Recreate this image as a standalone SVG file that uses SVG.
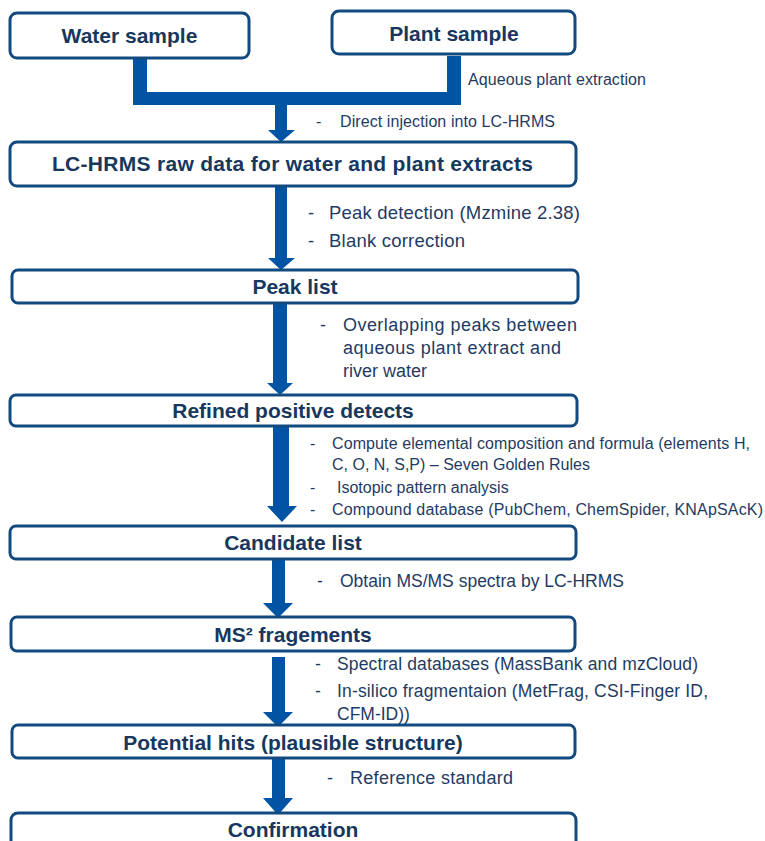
<svg xmlns="http://www.w3.org/2000/svg" width="765" height="841" viewBox="0 0 765 841">
<style>
.box{fill:#ffffff;stroke:#124A80;stroke-width:3}
.t{font-family:"Liberation Sans",Arial,sans-serif;font-weight:bold;font-size:21px;fill:#17375E;text-anchor:middle}
.a{font-family:"Liberation Sans",Arial,sans-serif;fill:#1F3B63}
.arr{fill:#0054A3}
</style>
<rect width="765" height="841" fill="#ffffff"/>
<g id="connectors">
<path class="arr" d="M133,58 H147 V92 H447 V56 H461 V105 H287 V130 H295 L281,142 L268,130 H275 V105 H133 Z"/>
<path class="arr" d="M275,186 H287 V258 H295 L281,270 L268,258 H275 Z"/>
<path class="arr" d="M273,303 H287 V383 H293 L280,395 L267,383 H273 Z"/>
<path class="arr" d="M273,426 H289 V506 H297 L282,522 L267,506 H273 Z"/>
<path class="arr" d="M272,559 H285 V603 H293 L278,618 L263,603 H272 Z"/>
<path class="arr" d="M272,657 H285 V712 H293 L278,727 L263,712 H272 Z"/>
<path class="arr" d="M272,758 H285 V798 H293 L278,815 L263,798 H272 Z"/>
</g>
<g id="water">
<rect class="box" x="10" y="13" width="239" height="45" rx="7"/>
<text class="t" x="129.5" y="43">Water sample</text>
</g>
<g id="plant">
<rect class="box" x="332" y="11" width="243" height="43" rx="7"/>
<text class="t" x="454" y="41">Plant sample</text>
</g>
<g id="lchrms">
<rect class="box" x="10" y="142" width="566" height="44" rx="7"/>
<text class="t" x="292.5" y="171" font-size="21.5" textLength="481">LC-HRMS raw data for water and plant extracts</text>
</g>
<g id="peaklist">
<rect class="box" x="12" y="270" width="566" height="33" rx="6"/>
<text class="t" x="295" y="294">Peak list</text>
</g>
<g id="refined">
<rect class="box" x="10" y="395" width="567" height="31" rx="6"/>
<text class="t" x="293" y="418">Refined positive detects</text>
</g>
<g id="candidate">
<rect class="box" x="10" y="526" width="566" height="33" rx="6"/>
<text class="t" x="293" y="550" font-size="20">Candidate list</text>
</g>
<g id="ms2">
<rect class="box" x="11" y="617" width="564" height="34" rx="6"/>
<text class="t" x="293" y="642">MS² fragements</text>
</g>
<g id="potential">
<rect class="box" x="12" y="725" width="563" height="33" rx="6"/>
<text class="t" x="293" y="750">Potential hits (plausible structure)</text>
</g>
<g id="confirmation">
<rect class="box" x="11" y="813" width="565" height="45" rx="7"/>
<text class="t" x="293" y="837">Confirmation</text>
</g>
<g id="labels">
<text class="a" x="468" y="85" font-size="16" textLength="178">Aqueous plant extraction</text>
<text class="a" x="316" y="127" font-size="16">-</text>
<text class="a" x="340" y="127" font-size="16" textLength="215">Direct injection into LC-HRMS</text>
<text class="a" x="308" y="219" font-size="18.5">-</text>
<text class="a" x="329" y="219" font-size="18.5" textLength="251">Peak detection (Mzmine 2.38)</text>
<text class="a" x="308" y="247" font-size="18.5">-</text>
<text class="a" x="329" y="247" font-size="18.5" textLength="136">Blank correction</text>
<text class="a" x="320" y="331" font-size="18">-</text>
<text class="a" x="343" y="331" font-size="18" textLength="234">Overlapping peaks between</text>
<text class="a" x="343" y="354" font-size="18" textLength="218">aqueous plant extract and</text>
<text class="a" x="343" y="377" font-size="18">river water</text>
<text class="a" x="310" y="449" font-size="16">-</text>
<text class="a" x="332" y="449" font-size="16" textLength="418">Compute elemental composition and formula (elements H,</text>
<text class="a" x="332" y="470" font-size="16">C, O, N, S,P) – Seven Golden Rules</text>
<text class="a" x="310" y="493" font-size="16">-</text>
<text class="a" x="337" y="493" font-size="16">Isotopic pattern analysis</text>
<text class="a" x="310" y="515" font-size="16">-</text>
<text class="a" x="332" y="515" font-size="16" textLength="431">Compound database (PubChem, ChemSpider, KNApSAcK)</text>
<text class="a" x="317" y="587" font-size="17.5">-</text>
<text class="a" x="340" y="587" font-size="17.5">Obtain MS/MS spectra by LC-HRMS</text>
<text class="a" x="315" y="670" font-size="17.5">-</text>
<text class="a" x="337" y="670" font-size="17.5" textLength="361">Spectral databases (MassBank and mzCloud)</text>
<text class="a" x="315" y="697" font-size="17.5">-</text>
<text class="a" x="337" y="697" font-size="17.5" textLength="371">In-silico fragmentaion (MetFrag, CSI-Finger ID,</text>
<text class="a" x="337" y="720" font-size="17.5">CFM-ID))</text>
<text class="a" x="327" y="784" font-size="18">-</text>
<text class="a" x="350" y="784" font-size="18" textLength="163">Reference standard</text>
</g>
</svg>
